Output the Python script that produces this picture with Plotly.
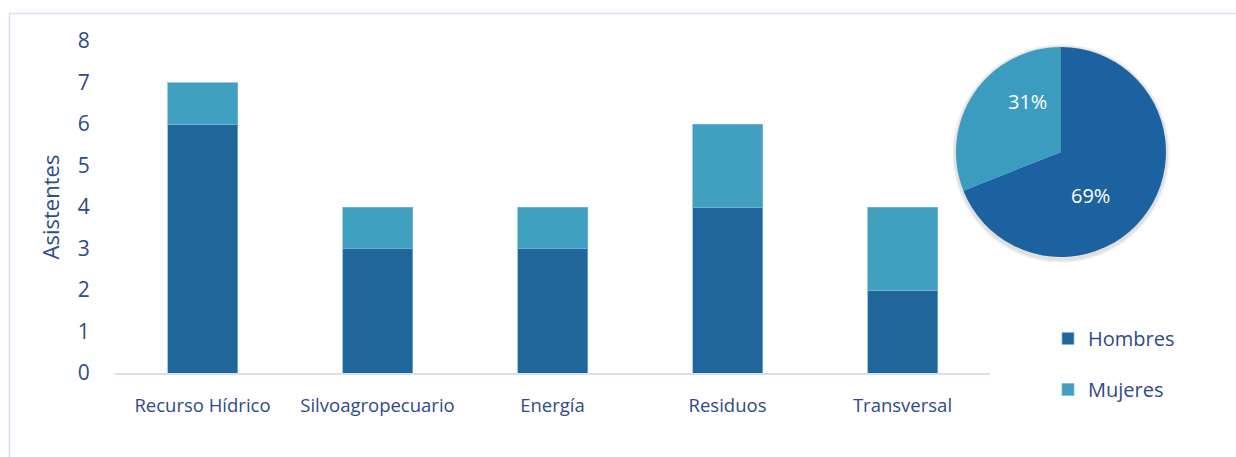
import plotly.graph_objects as go

categories = ["Recurso Hídrico", "Silvoagropecuario", "Energía", "Residuos", "Transversal"]
hombres = [6, 3, 3, 4, 2]
mujeres = [1, 1, 1, 2, 2]
pie_labels = ["Hombres", "Mujeres"]
pie_values = [69, 31]
y_ticks = [0, 1, 2, 3, 4, 5, 6, 7, 8]

C_H = "#21669A"
C_M = "#419FBF"
TXT = "#30498A"
FONT = "Open Sans, Noto Sans, sans-serif"
W, H = 1236, 457

fig = go.Figure()
fig.add_trace(go.Bar(x=categories, y=hombres, name="Hombres", marker_color=C_H,
                     marker_line=dict(color="rgba(120,185,215,0.7)", width=1),
                     legendgroup="h", width=0.4))
fig.add_trace(go.Bar(x=categories, y=mujeres, name="Mujeres", marker_color=C_M,
                     marker_line=dict(color="rgba(120,185,215,0.7)", width=1),
                     legendgroup="m", width=0.4))

# subtle shadow behind pie
for i, a in enumerate([0.03, 0.04, 0.05]):
    fig.add_shape(type="circle", xref="paper", yref="paper",
                  x0=(954 - 2 + i) / W, x1=(1168 + 2 - i) / W,
                  y0=(H - 261 - 2 + i) / H, y1=(H - 46 + 2 - i) / H,
                  fillcolor=f"rgba(0,0,0,{a})", line_width=0, layer="below")

fig.add_trace(go.Pie(labels=pie_labels, values=pie_values, sort=False,
                     direction="clockwise", rotation=0, showlegend=False,
                     marker=dict(colors=["#1C62A0", "#3B9CC0"], line=dict(width=0)),
                     textinfo="none",
                     domain=dict(x=[956 / W, 1166 / W], y=[(H - 257) / H, (H - 47) / H]),
                     hoverinfo="label+percent"))

# pie percentage labels (computed from the pie values)
total = sum(pie_values)
pie_label_pos = [(1090, 196), (1027, 102)]
for v, (px, py) in zip(pie_values, pie_label_pos):
    fig.add_annotation(xref="paper", yref="paper", x=px / W, y=(H - py) / H,
                       xanchor="center", yanchor="middle",
                       text=f"{v / total * 100:.0f}%", showarrow=False,
                       font=dict(color="white", size=20, family=FONT))

# outer border
fig.add_shape(type="rect", xref="paper", yref="paper",
              x0=9.5 / W, x1=1240 / W, y0=-0.05, y1=(H - 13.5) / H,
              line=dict(color="#D6E0F2", width=1.5), fillcolor="rgba(0,0,0,0)")

fig.update_layout(
    width=W, height=H,
    margin=dict(l=0, r=0, t=0, b=0, autoexpand=False),
    paper_bgcolor="white", plot_bgcolor="white",
    barmode="stack",
    font=dict(family=FONT, color=TXT),
    xaxis=dict(domain=[115 / W, 990 / W], showline=True, linecolor="#D6E0F2", linewidth=2,
               showgrid=False, tickfont=dict(size=18.5, color=TXT), automargin=False,
               ticks="outside", ticklen=15, tickcolor="rgba(0,0,0,0)",
               range=[-0.5, 4.5]),
    yaxis=dict(domain=[(H - 373) / H, (H - 41) / H], range=[0, 8], tickvals=y_ticks,
               showgrid=False, zeroline=False, showline=False, automargin=False,
               tickfont=dict(size=21, color=TXT),
               ticks="outside", ticklen=20, tickcolor="rgba(0,0,0,0)",
               title=dict(text="Asistentes", font=dict(size=22, color=TXT), standoff=12)),
    legend=dict(x=1048 / W, xanchor="left", y=(H - 319) / H, yanchor="top",
                traceorder="grouped", tracegroupgap=22,
                font=dict(size=20, color=TXT), bgcolor="rgba(0,0,0,0)"),
    showlegend=True,
)

fig.write_html("out.html")
